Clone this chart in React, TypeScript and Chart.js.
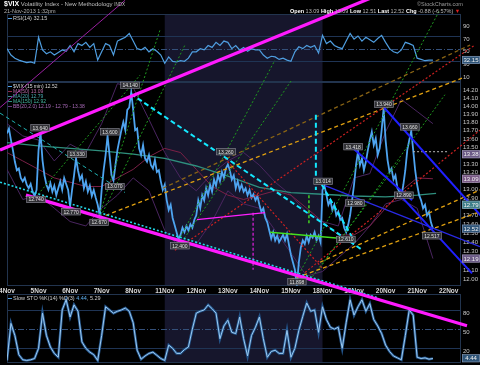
import React, { useEffect, useRef } from "react";
import { Chart, registerables } from "chart.js";
Chart.register(...registerables);

const FONT = "'Liberation Sans', Arial, Helvetica, sans-serif";

// ---------- x axis: trading days ----------
const dayLabels = ["4Nov", "5Nov", "6Nov", "7Nov", "8Nov", "11Nov", "12Nov", "13Nov", "14Nov", "15Nov", "18Nov", "19Nov", "20Nov", "21Nov", "22Nov"];
const xMin = 0;
const xMax = 14.39;
const shadedWeek = [5, 10];

// ---------- price (15 min), sampled 16 per day ----------
const priceSamplesPerDay = 16;
const priceValues = [
  13.63, 13.69, 13.55, 13.43, 13.29, 13.19, 13.21, 13.10, 13.06, 13.10, 13.02, 12.98, 13.03, 12.94, 12.89, 12.96,
  13.43, 13.64, 13.31, 13.13, 13.02, 12.96, 13.04, 12.94, 13.01, 12.90, 12.98, 13.06, 12.96, 13.10, 13.03, 12.96,
  12.77, 12.96, 13.13, 13.33, 13.19, 13.08, 13.13, 12.98, 13.06, 12.94, 13.01, 12.89, 12.96, 12.87, 12.79, 12.67,
  12.96, 13.19, 13.37, 13.60, 13.37, 13.13, 13.07, 13.25, 13.43, 13.55, 13.67, 13.77, 13.67, 13.92, 13.95, 14.14,
  13.92, 13.67, 13.69, 13.45, 13.37, 13.49, 13.33, 13.29, 13.37, 13.25, 13.21, 13.31, 13.17, 13.19, 13.06, 12.96,
  13.02, 12.84, 12.73, 12.79, 12.64, 12.56, 12.48, 12.40, 12.45, 12.53, 12.48, 12.55, 12.50, 12.57, 12.53, 12.62,
  12.67, 12.84, 12.75, 12.90, 12.84, 12.98, 12.90, 13.02, 12.94, 13.08, 13.01, 13.13, 13.06, 13.17, 13.10, 13.21,
  13.26, 13.19, 13.08, 13.13, 12.98, 13.06, 12.96, 13.02, 12.94, 12.98, 12.90, 12.96, 12.87, 12.91, 12.84, 12.89,
  12.79, 12.71, 12.75, 12.64, 12.59, 12.50, 12.41, 12.48, 12.39, 12.44, 12.37, 12.41, 12.45, 12.39, 12.46, 12.34,
  12.23, 12.15, 12.07, 11.90, 12.15, 12.31, 12.39, 12.35, 12.44, 12.37, 12.45, 12.42, 12.48, 12.39, 12.44, 12.37,
  12.96, 13.01, 12.90, 12.79, 12.84, 12.73, 12.79, 12.67, 12.71, 12.62, 12.64, 12.53, 12.48, 12.56, 12.67, 12.84,
  13.02, 13.25, 13.41, 13.25, 13.33, 13.19, 13.29, 13.43, 13.55, 13.65, 13.49, 13.57, 13.37, 13.45, 13.67, 13.94,
  13.55, 13.31, 13.17, 13.21, 13.08, 13.13, 12.98, 12.94, 12.89, 13.02, 13.19, 13.43, 13.55, 13.66, 13.43, 13.19,
  13.02, 12.90, 12.84, 12.75, 12.79, 12.67, 12.71, 12.59, 12.52,
];

// ---------- oscillators, sampled 8 per day ----------
const oscSamplesPerDay = 8;
const rsiValues = [
  50, 40, 35, 32, 30, 28, 29, 27,
  68, 48, 42, 45, 40, 44, 48, 46,
  55, 45, 58, 55, 60, 52, 58, 32,
  45, 58, 55, 40, 62, 65, 68, 74,
  62, 50, 48, 52, 45, 50, 46, 40,
  27, 37, 30, 29, 31, 30, 35, 45,
  45, 50, 48, 55, 52, 60, 55, 62,
  60, 50, 55, 48, 52, 46, 50, 48,
  48, 40, 35, 38, 37, 33, 35, 32,
  30, 45, 53, 50, 55, 52, 55, 43,
  71, 58, 62, 55, 52, 50, 62, 74,
  65, 70, 62, 68, 64, 60, 66, 71,
  60, 50, 45, 43, 48, 60, 58, 55,
  35, 33, 31, 32, 32,
];
const stoValues = [
  1, 59, 40, 10, 2, 1, 2, 4,
  20, 75, 40, 22, 12, 6, 80, 96,
  69, 88, 78, 30, 20, 14, 10, 1,
  40, 85, 80, 75, 78, 80, 83, 78,
  60, 17, 3, 8, 12, 14, 9, 4,
  1, 25, 20, 12, 12, 18, 22, 50,
  75, 78, 80, 88, 82, 75, 35, 55,
  64, 45, 43, 69, 35, 8, 40, 53,
  69, 35, 6, 15, 17, 12, 12, 48,
  6, 20, 48, 70, 91, 78, 80, 45,
  85, 65, 53, 50, 53, 20, 60, 96,
  72, 85, 96, 78, 90, 65, 55, 43,
  25, 15, 8, 5, 2, 40, 80, 72,
  6, 4, 5, 3, 4,
];

// ---------- overlays (half-day steps) ----------
const bandStep = 0.5;
const bbUpper = [13.75, 13.6, 13.55, 13.3, 13.5, 13.4, 13.75, 14.25, 14.2, 13.8, 13.4, 13.1, 12.95, 13.15, 13.3, 13.4, 13.25, 13.05, 12.9, 12.7, 12.6, 12.55, 13.1, 13.15, 13.65, 14.05, 13.9, 13.75];
const bbLower = [13.2, 12.85, 12.9, 12.75, 12.6, 12.55, 12.75, 12.9, 13.1, 12.95, 12.5, 12.3, 12.35, 12.6, 12.95, 12.8, 12.75, 12.5, 12.25, 12.0, 12.05, 12.2, 12.35, 12.55, 12.8, 12.85, 12.75, 12.19];
const ma50Values = [13.4, 13.3, 13.2, 13.1, 13.05, 13.0, 13.0, 13.1, 13.2, 13.35, 13.45, 13.4, 13.2, 13.0, 12.9, 12.85, 12.9, 12.95, 12.9, 12.75, 12.6, 12.45, 12.45, 12.55, 12.75, 12.95, 13.1, 13.09];
const ma150Days = [0, 1, 2, 3, 4, 5, 6, 7, 8, 9, 10, 11, 12, 13, 13.6];
const ma150Values = [13.52, 13.48, 13.45, 13.42, 13.38, 13.33, 13.24, 13.12, 12.99, 12.93, 12.91, 12.89, 12.88, 12.9, 12.92];

// ---------- axes ----------
const priceMin = 11.895;
const priceMax = 14.271;
const priceTicks = [12.0, 12.1, 12.2, 12.3, 12.4, 12.5, 12.6, 12.7, 12.8, 12.9, 13.0, 13.1, 13.2, 13.3, 13.4, 13.5, 13.6, 13.7, 13.8, 13.9, 14.0, 14.1, 14.2];
const rsiTicks = [10, 30, 50, 70, 90];
const stoTicks = [20, 50, 80];

// ---------- trend-line annotations [day1, price1, day2, price2] ----------
const magentaThick = [[-0.22, 13.43, 12.14, 15.49], [0.6, 12.9, 14.58, 11.48]];
const cyanThick = [[3.93, 14.12, 11.28, 12.28], [9.98, 13.02, 11.03, 12.37], [9.79, 13.86, 9.79, 12.96]];
const cyanFine = [[-0.22, 13.05, 11.76, 11.77]];
const tealThin = [[-0.22, 13.88, 3.74, 12.93]];
const blueThick = [[11.95, 13.95, 15.06, 12.65], [10.94, 13.46, 12.84, 12.84], [12.46, 12.9, 14.74, 12.03]];
const blueThin = [[10.08, 13.01, 14.99, 12.32]];
const redDotted = [[5.32, 12.28, 14.83, 14.75], [9.45, 12.04, 14.99, 13.67], [6.91, 13.33, 9.98, 12.09]];
const orangeDashed = [[8.97, 11.96, 14.99, 12.71], [9.92, 12.15, 14.99, 12.96], [2.92, 12.64, 14.42, 14.32]];
const brownDashed = [[4.94, 12.98, 14.68, 14.75]];
const greenDotted = [[2.85, 12.59, 4.85, 14.95], [2.92, 12.62, 5.64, 14.75], [0.82, 12.84, 4.22, 14.36], [5.32, 12.31, 8.49, 14.55], [5.48, 12.34, 9.03, 14.3], [9.19, 11.98, 13.72, 15.22], [9.92, 12.09, 13.88, 14.11], [9.6, 11.96, 12.46, 13.31]];
const greenSolid = [[8.34, 12.48, 10.62, 12.41]];
const greenVertical = [[9.57, 12.9, 9.57, 12.56]];
const magentaThin = [[6.02, 12.62, 8.18, 12.7]];
const magentaVertical = [[7.8, 12.7, 7.8, 12.07]];
const purpleThin = [[-0.22, 13.95, 3.74, 15.35]];
const greyDotted = [[12.87, 13.41, 13.95, 13.41]];

// ---------- value call-outs ----------
const calloutDays = [1.05, 0.92, 2.22, 2.03, 2.92, 3.26, 3.42, 3.9, 5.48, 6.94, 9.19, 10.02, 10.74, 11.03, 10.97, 11.95, 12.77, 12.58, 13.47];
const calloutPrices = [13.7, 12.85, 13.38, 12.71, 12.59, 13.65, 13.0, 14.23, 12.33, 13.41, 11.94, 13.06, 12.4, 12.81, 13.47, 13.99, 13.71, 12.9, 12.44];
const calloutTexts = ["13.640", "12.740", "13.330", "12.770", "12.670", "13.600", "13.070", "14.140", "12.400", "13.260", "11.898", "13.014", "12.610", "12.980", "13.418", "13.940", "13.660", "12.890", "12.517"];

// ---------- right-axis value boxes ----------
const priceBoxValues = [13.38, 13.09, 12.79, 12.52, 12.19];
const priceBoxColors = ["#6b5a86", "#7a5a86", "#3f7f8a", "#2e5478", "#6b5a86"];
const rsiLast = 32.15;
const stoLast = 4.44;

const seg = (l: number[], color: string, width: number, dash: number[], order: number) => ({
  data: [{ x: l[0], y: l[1] }, { x: l[2], y: l[3] }],
  borderColor: color,
  borderWidth: width,
  borderDash: dash,
  pointRadius: 0,
  clip: false as const,
  order,
  fill: false,
  tension: 0,
});

const series = (xs: number[], ys: number[], color: string, width: number, order: number) => ({
  data: ys.map((v, i) => ({ x: xs[i], y: v })),
  borderColor: color,
  borderWidth: width,
  pointRadius: 0,
  order,
  fill: false,
  tension: 0,
});

const idx = (n: number, perDay: number) => Array.from({ length: n }, (_, i) => i / perDay);

function drawBox(ctx: CanvasRenderingContext2D, x: number, y: number, w: number, h: number, bg: string, fg: string, text: string, size: number) {
  ctx.fillStyle = bg;
  ctx.fillRect(x, y - h / 2, w, h);
  ctx.strokeStyle = "rgba(200,200,220,0.6)";
  ctx.lineWidth = 0.6;
  ctx.strokeRect(x + 0.3, y - h / 2 + 0.3, w - 0.6, h - 0.6);
  ctx.fillStyle = fg;
  ctx.font = `${size}px ${FONT}`;
  ctx.textAlign = "center";
  ctx.textBaseline = "middle";
  ctx.fillText(text, x + w / 2, y + 0.5);
}

function makePanelPlugin(hlines: { v: number; dash: number[]; color: string }[], box: { v: number; text: string; bg: string } | null) {
  return {
    id: "panelDecor",
    beforeDatasetsDraw(chart: any) {
      const { ctx, chartArea: a, scales } = chart;
      const xs = scales.x;
      const ys = scales.y;
      ctx.save();
      const s1 = xs.getPixelForValue(shadedWeek[0]);
      const s2 = xs.getPixelForValue(shadedWeek[1]);
      ctx.fillStyle = "#16162c";
      ctx.fillRect(s1, a.top, s2 - s1, a.bottom - a.top);
      hlines.forEach((h) => {
        const y = Math.round(ys.getPixelForValue(h.v)) + 0.5;
        ctx.strokeStyle = h.color;
        ctx.lineWidth = 1;
        ctx.setLineDash(h.dash);
        ctx.beginPath();
        ctx.moveTo(a.left, y);
        ctx.lineTo(a.right, y);
        ctx.stroke();
      });
      ctx.setLineDash([]);
      ctx.strokeStyle = "#22344e";
      ctx.lineWidth = 1;
      ctx.strokeRect(a.left + 0.5, a.top + 0.5, a.right - a.left - 1, a.bottom - a.top - 1);
      ctx.restore();
    },
    afterDraw(chart: any) {
      if (!box) return;
      const { ctx, chartArea: a, scales } = chart;
      const y = scales.y.getPixelForValue(box.v);
      ctx.save();
      drawBox(ctx, a.right + 1, y, 18, 8, box.bg, "#f0f0f0", box.text, 6);
      ctx.restore();
    },
  };
}

const calloutPlugin = {
  id: "callouts",
  afterDatasetsDraw(chart: any) {
    const { ctx, scales } = chart;
    ctx.save();
    ctx.font = `5px ${FONT}`;
    calloutTexts.forEach((t, i) => {
      const x = scales.x.getPixelForValue(calloutDays[i]);
      const y = scales.y.getPixelForValue(calloutPrices[i]);
      const w = ctx.measureText(t).width + 4;
      drawBox(ctx, x - w / 2, y, w, 7, "rgba(52,52,56,0.92)", "#e2e2e2", t, 5);
      ctx.font = `5px ${FONT}`;
    });
    ctx.restore();
  },
  afterDraw(chart: any) {
    const { ctx, chartArea: a, scales } = chart;
    ctx.save();
    priceBoxValues.forEach((v, i) => {
      const y = scales.y.getPixelForValue(v);
      drawBox(ctx, a.right + 1, y, 18, 8, priceBoxColors[i], "#f2f2f2", v.toFixed(2), 6);
    });
    ctx.restore();
  },
};

const baseX = (display: boolean) => ({
  type: "linear" as const,
  min: xMin,
  max: xMax,
  display,
  afterBuildTicks: (s: any) => {
    s.ticks = dayLabels.map((_, i) => ({ value: i }));
  },
  afterFit: (s: any) => {
    if (display) s.height = 9;
    s.paddingLeft = 0;
    s.paddingRight = 0;
  },
  ticks: {
    autoSkip: false,
    maxRotation: 0,
    padding: 1,
    color: "#d6d6d6",
    font: { size: 6.5, family: FONT, weight: "bold" as const },
    callback: (v: any) => dayLabels[v] ?? "",
  },
  grid: { display: false, drawTicks: false },
  border: { display: false },
});

const rightY = (extra: any, ticks: number[], fmt: (v: number) => string) => ({
  position: "right" as const,
  ...extra,
  afterBuildTicks: (s: any) => {
    s.ticks = ticks.map((v) => ({ value: v }));
  },
  afterFit: (s: any) => {
    s.width = 19;
    s.paddingTop = 0;
    s.paddingBottom = 0;
  },
  ticks: {
    autoSkip: false,
    padding: 2,
    align: "start" as const,
    color: "#c8c8c8",
    font: { size: 6, family: FONT },
    callback: (v: any) => fmt(Number(v)),
  },
  grid: { display: false, drawTicks: false },
  border: { display: false },
});

const common = {
  animation: false as const,
  responsive: false,
  devicePixelRatio: 1,
  events: [] as any[],
  plugins: { legend: { display: false }, tooltip: { enabled: false } },
};

const mainLegend = [
  { text: "$VIX (15 min) 12.52", color: "#d8d8d8", swatch: "#4ea4f0" },
  { text: "MA(50) 13.09", color: "#b66aa6", swatch: "#8a2a50" },
  { text: "MA(20) 12.79", color: "#4aa8b0", swatch: "#3a8a90" },
  { text: "MA(150) 12.92", color: "#46b8a2", swatch: "#2f8f7e" },
  { text: "BB(20,2.0) 12.19 - 12.79 - 13.38", color: "#a86ab8", swatch: "#6a3a80" },
];

export default function App() {
  const rsiRef = useRef<HTMLCanvasElement>(null);
  const mainRef = useRef<HTMLCanvasElement>(null);
  const stoRef = useRef<HTMLCanvasElement>(null);

  useEffect(() => {
    const rsiChart = new Chart(rsiRef.current as HTMLCanvasElement, {
      type: "line",
      data: {
        datasets: [series(idx(rsiValues.length, oscSamplesPerDay), rsiValues, "#4f9ee0", 1.2, 0) as any],
      },
      options: {
        ...common,
        layout: { padding: { left: 7, right: 0, top: 14, bottom: 283 } },
        scales: {
          x: baseX(false) as any,
          y: rightY({ min: -2.6, max: 104.7 }, rsiTicks, (v) => String(v)) as any,
        },
      },
      plugins: [
        makePanelPlugin(
          [
            { v: 70, dash: [], color: "#1f3454" },
            { v: 30, dash: [], color: "#1f3454" },
            { v: 50, dash: [6, 2, 1, 2], color: "#34507a" },
          ],
          { v: rsiLast, text: rsiLast.toFixed(2), bg: "#2e5478" }
        ) as any,
      ],
    });

    const stoX = idx(stoValues.length, oscSamplesPerDay);
    const stoChart = new Chart(stoRef.current as HTMLCanvasElement, {
      type: "line",
      data: {
        datasets: [
          series(stoX, stoValues, "#9ccaf0", 1, 0) as any,
          series(stoX, stoValues, "#23558c", 2.6, 1) as any,
        ],
      },
      options: {
        ...common,
        layout: { padding: { left: 7, right: 0, top: 294, bottom: 2 } },
        scales: {
          x: baseX(false) as any,
          y: rightY({ min: -3, max: 105 }, stoTicks, (v) => String(v)) as any,
        },
      },
      plugins: [
        makePanelPlugin(
          [
            { v: 80, dash: [], color: "#1f3454" },
            { v: 20, dash: [], color: "#1f3454" },
            { v: 50, dash: [6, 2, 1, 2], color: "#34507a" },
          ],
          { v: stoLast, text: stoLast.toFixed(2), bg: "#2e5478" }
        ) as any,
      ],
    });

    const bandX = idx(bbUpper.length, 1 / bandStep);
    const mainChart = new Chart(mainRef.current as HTMLCanvasElement, {
      type: "line",
      data: {
        datasets: [
          ...magentaThick.map((l) => seg(l, "#ff1aff", 3.2, [], 0)),
          ...cyanThick.map((l) => seg(l, "#14e8ff", 2, [5, 3], 1)),
          ...cyanFine.map((l) => seg(l, "#22d8e8", 1.6, [2, 2], 1)),
          ...tealThin.map((l) => seg(l, "#1fb0b0", 1, [4, 3], 1)),
          ...blueThick.map((l) => seg(l, "#2020ff", 2, [], 1)),
          ...blueThin.map((l) => seg(l, "#2a2ae8", 1.2, [], 1)),
          ...redDotted.map((l) => seg(l, "#cc2020", 1.2, [2, 2], 2)),
          ...orangeDashed.map((l) => seg(l, "#e0a010", 1.3, [4, 3], 2)),
          ...brownDashed.map((l) => seg(l, "#8a6414", 1.3, [4, 3], 2)),
          ...greenDotted.map((l) => seg(l, "#1f9a1f", 1, [2, 2], 2)),
          ...greenSolid.map((l) => seg(l, "#44e020", 1.4, [], 1)),
          ...greenVertical.map((l) => seg(l, "#44e020", 1.4, [3, 2], 1)),
          ...magentaThin.map((l) => seg(l, "#ff20ff", 1.3, [], 1)),
          ...magentaVertical.map((l) => seg(l, "#e020e0", 1.2, [3, 2], 1)),
          ...purpleThin.map((l) => seg(l, "#9a20a0", 1, [], 2)),
          ...greyDotted.map((l) => seg(l, "#b8b8b8", 1, [2, 2], 1)),
          series(idx(priceValues.length, priceSamplesPerDay), priceValues, "#4ea4f0", 1.8, 5),
          series(ma150Days, ma150Values, "#2f8f7e", 1.3, 6),
          series(bandX, ma50Values, "#7a2046", 1, 6),
          series(bandX, bbUpper, "#4a2560", 1, 7),
          series(bandX, bbLower, "#4a2560", 1, 7),
        ] as any,
      },
      options: {
        ...common,
        layout: { padding: { left: 7, right: 0, top: 82, bottom: 70 } },
        scales: {
          x: baseX(true) as any,
          y: rightY({ type: "logarithmic", min: priceMin, max: priceMax }, priceTicks, (v) => v.toFixed(2)) as any,
        },
      },
      plugins: [makePanelPlugin([], null) as any, calloutPlugin as any],
    });

    return () => {
      rsiChart.destroy();
      stoChart.destroy();
      mainChart.destroy();
    };
  }, []);

  const canvasStyle: React.CSSProperties = { position: "absolute", left: 0, top: 0, width: 480, height: 365 };
  const txt = (extra: React.CSSProperties): React.CSSProperties => ({
    position: "absolute",
    whiteSpace: "nowrap",
    fontFamily: FONT,
    ...extra,
  });

  return (
    <div style={{ position: "fixed", left: 0, top: 0, width: 480, height: 365, background: "#000", overflow: "hidden" }}>
      <canvas ref={rsiRef} width={480} height={365} style={canvasStyle} />
      <canvas ref={stoRef} width={480} height={365} style={canvasStyle} />
      <canvas ref={mainRef} width={480} height={365} style={canvasStyle} />

      <div style={txt({ left: 4, top: 0, fontSize: 6, lineHeight: "7px", color: "#bdbdbd" })}>
        <span style={{ color: "#fff", fontWeight: "bold", fontSize: 7 }}>$VIX</span> Volatility Index - New Methodology <span style={{ fontSize: 4.5 }}>INDX</span>
      </div>
      <div style={txt({ left: 4, top: 8, fontSize: 5.5, lineHeight: "6px", color: "#b0b0b0" })}>21-Nov-2013 1:32pm</div>
      <div style={txt({ left: 417, top: 1, fontSize: 5.5, lineHeight: "6px", color: "#9a9a9a" })}>©StockCharts.com</div>
      <div style={txt({ left: 290, top: 8, fontSize: 5.5, lineHeight: "6px", color: "#b8b8b8" })}>
        <b style={{ color: "#fff" }}>Open</b> 13.09 <b style={{ color: "#fff" }}>High</b> 13.09 <b style={{ color: "#fff" }}>Low</b> 12.51{" "}
        <b style={{ color: "#fff" }}>Last</b> 12.52 <b style={{ color: "#fff" }}>Chg</b> -0.88 (-6.57%) <span style={{ color: "#e02020" }}>▼</span>
      </div>

      <div style={txt({ left: 8, top: 15, fontSize: 5.5, lineHeight: "6px", color: "#d0d0d0" })}>
        <span style={{ display: "inline-block", width: 4, height: 1.5, background: "#4f9ee0", verticalAlign: "middle", marginRight: 1 }} />
        RSI(14) 32.15
      </div>

      {mainLegend.map((l, i) => (
        <div key={l.text} style={txt({ left: 8, top: 84 + i * 5, fontSize: 5, lineHeight: "5px", color: l.color })}>
          <span style={{ display: "inline-block", width: 4, height: 1.5, background: l.swatch, verticalAlign: "middle", marginRight: 1 }} />
          {l.text}
        </div>
      ))}

      <div style={txt({ left: 8, top: 295, fontSize: 5.5, lineHeight: "6px", color: "#d0d0d0" })}>
        <span style={{ display: "inline-block", width: 4, height: 1.5, background: "#4f9ee0", verticalAlign: "middle", marginRight: 1 }} />
        Slow STO %K(14) %D(3) <span style={{ color: "#5fb0f0" }}>4.44</span>, 5.29
      </div>
    </div>
  );
}
